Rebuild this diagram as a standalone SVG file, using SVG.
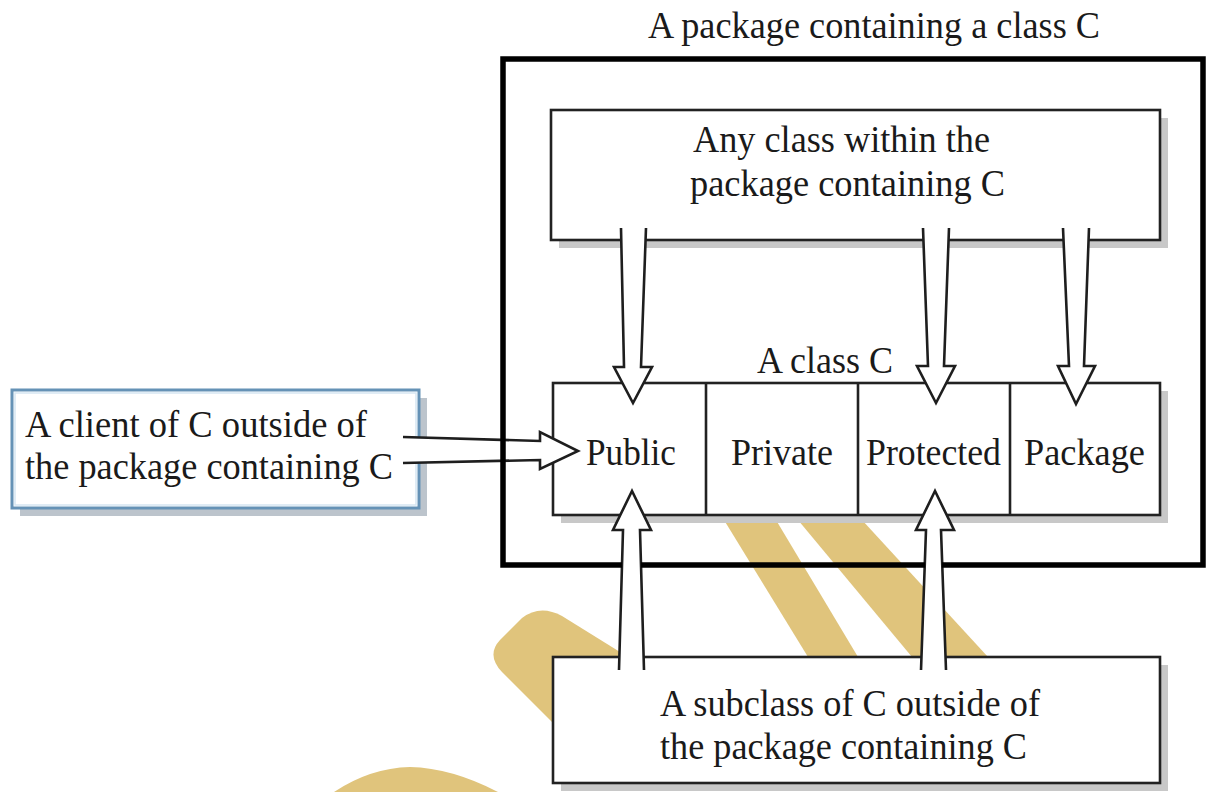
<svg xmlns="http://www.w3.org/2000/svg" width="1206" height="792" viewBox="0 0 1206 792">
  <style>
    .txt { font-family: "Liberation Serif", "Times New Roman", serif; font-size: 37px; fill: #1a1a1a; }
    .box { fill: #ffffff; stroke: #222222; stroke-width: 2.6; }
    .shadow { fill: #c8c8c8; }
    .arrow { fill: #ffffff; stroke: #1e1e1e; stroke-width: 2.6; stroke-linejoin: miter; }
    .mark { fill: #e0c47c; }
    .frame { fill: none; stroke: #000000; stroke-width: 5.5; stroke-linejoin: miter; }
  </style>

  <rect width="1206" height="792" fill="#ffffff"/>

  <!-- background marks -->
  <g id="marks">
    <polygon class="mark" points="724,520 776,520 858,657 808,657"/>
    <polygon class="mark" points="798,520 862,520 988,657 912,657"/>
    <path class="mark" d="M 560 730 L 502 672 Q 486 655 500 640 L 522 618 Q 540 604 562 616 L 620 652 L 620 730 Z"/>
    <path class="mark" d="M 334 792 Q 370 768 410 767 Q 452 768 498 792 Z"/>
  </g>

  <!-- client outside the package -->
  <g id="client">
    <rect x="20" y="398" width="407" height="118" fill="#bcc4cc"/>
    <rect x="12" y="390" width="407" height="118" fill="#ffffff" stroke="#6592b6" stroke-width="3"/>
    <rect x="15" y="393" width="401" height="112" fill="none" stroke="#d6e6f2" stroke-width="1.5"/>
    <text class="txt" x="25" y="437" textLength="342" lengthAdjust="spacingAndGlyphs">A client of C outside of</text>
    <text class="txt" x="25" y="479" textLength="368" lengthAdjust="spacingAndGlyphs">the package containing C</text>
  </g>

  <!-- package title -->
  <g id="package-label">
    <text class="txt" x="648" y="38" textLength="452" lengthAdjust="spacingAndGlyphs">A package containing a class C</text>
  </g>

  <!-- any class inside the package -->
  <g id="package-class">
    <rect class="shadow" x="559" y="118" width="609" height="130"/>
    <rect class="box" x="551" y="110" width="609" height="130"/>
    <text class="txt" x="693" y="152" textLength="297" lengthAdjust="spacingAndGlyphs">Any class within the</text>
    <text class="txt" x="690" y="196" textLength="315" lengthAdjust="spacingAndGlyphs">package containing C</text>
  </g>

  <!-- class C with its four access levels -->
  <g id="class-c">
    <text class="txt" x="757" y="373" textLength="136" lengthAdjust="spacingAndGlyphs">A class C</text>
    <rect class="shadow" x="561" y="391" width="607" height="132"/>
    <rect class="box" x="553" y="383" width="607" height="132"/>
    <line x1="706" y1="383" x2="706" y2="515" stroke="#222" stroke-width="2.6"/>
    <line x1="858" y1="383" x2="858" y2="515" stroke="#222" stroke-width="2.6"/>
    <line x1="1010" y1="383" x2="1010" y2="515" stroke="#222" stroke-width="2.6"/>
    <text class="txt" x="586" y="465" textLength="90" lengthAdjust="spacingAndGlyphs">Public</text>
    <text class="txt" x="731" y="465" textLength="102" lengthAdjust="spacingAndGlyphs">Private</text>
    <text class="txt" x="866" y="465" textLength="135" lengthAdjust="spacingAndGlyphs">Protected</text>
    <text class="txt" x="1024" y="465" textLength="121" lengthAdjust="spacingAndGlyphs">Package</text>
  </g>

  <!-- subclass outside the package -->
  <g id="subclass">
    <rect class="shadow" x="561" y="665" width="607" height="126"/>
    <rect class="box" x="553" y="657" width="607" height="126"/>
    <text class="txt" x="660" y="716" textLength="380" lengthAdjust="spacingAndGlyphs">A subclass of C outside of</text>
    <text class="txt" x="660" y="759" textLength="367" lengthAdjust="spacingAndGlyphs">the package containing C</text>
  </g>

  <!-- hollow access arrows -->
  <g id="connectors">
    <!-- client to Public -->
    <path class="arrow" d="M 403 437 L 540 441 L 540 432 L 578 451 L 540 469 L 540 460 L 403 463"/>
    <!-- package class down to Public, Protected, Package -->
    <path class="arrow" d="M 621 228 L 624 367 L 614 367 L 633 403 L 652 367 L 641 367 L 646 228"/>
    <path class="arrow" d="M 923 228 L 928 366 L 917 366 L 936 403 L 955 366 L 944 366 L 949 228"/>
    <path class="arrow" d="M 1063 228 L 1069 366 L 1058 366 L 1076 404 L 1095 366 L 1084 366 L 1089 228"/>
    <!-- subclass up to Public and Protected -->
    <path class="arrow" d="M 619 670 L 623 530 L 613 530 L 632 491 L 651 530 L 640 530 L 644 670"/>
    <path class="arrow" d="M 921 670 L 926 530 L 916 530 L 935 491 L 954 530 L 941 530 L 946 670"/>
  </g>

  <!-- package frame, open where the subclass arrows pass -->
  <g id="package">
    <path class="frame" d="M 942 565 H 1203 V 59 H 503 V 565 H 622 M 641 565 H 925"/>
  </g>
</svg>
